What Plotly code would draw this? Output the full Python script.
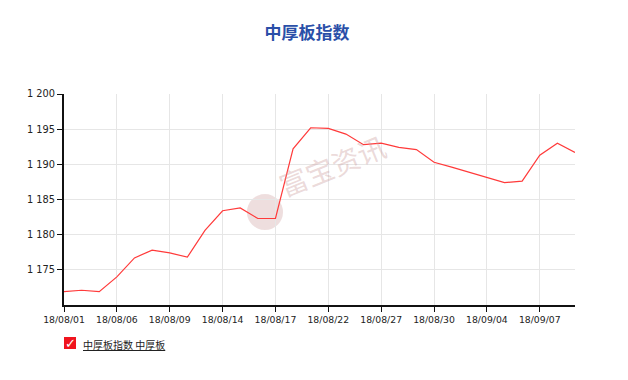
import plotly.graph_objects as go

dates = ["18/08/01","18/08/02","18/08/03","18/08/06","18/08/07","18/08/08","18/08/09","18/08/10",
         "18/08/13","18/08/14","18/08/15","18/08/16","18/08/17","18/08/20","18/08/21","18/08/22",
         "18/08/23","18/08/24","18/08/27","18/08/28","18/08/29","18/08/30","18/08/31","18/09/03",
         "18/09/04","18/09/05","18/09/06","18/09/07","18/09/10","18/09/11"]
values = [1171.9,1172.1,1171.9,1174.0,1176.7,1177.8,1177.4,1176.8,
          1180.6,1183.4,1183.8,1182.3,1182.3,1192.2,1195.2,1195.1,
          1194.3,1192.8,1193.0,1192.4,1192.1,1190.3,1189.6,1188.9,
          1188.1,1187.4,1187.6,1191.3,1193.0,1191.7]
tick_labels = dates[::3]
y_ticks = [1175, 1180, 1185, 1190, 1195, 1200]
title_text = "中厚板指数"
legend_text = "中厚板指数 中厚板"
watermark = "富宝资讯"

fig = go.Figure()
fig.add_trace(go.Scatter(x=dates, y=values, mode="lines",
                         line=dict(color="#ff3a3a", width=1.2),
                         showlegend=False, hoverinfo="x+y"))

font_family = "DejaVu Sans, Verdana, sans-serif"
fig.update_layout(
    width=628, height=380,
    margin=dict(l=64, r=53, t=94, b=75),
    paper_bgcolor="white", plot_bgcolor="white",
    separators=". ",
    font=dict(family=font_family, size=10, color="#222"),
    title=dict(text="<b>" + title_text + "</b>", x=0.489, xanchor="center",
               y=1 - 33 / 380, yanchor="middle",
               font=dict(family="Noto Sans CJK SC", size=17, color="#2a4fa8")),
    xaxis=dict(type="category", range=[0, len(dates) - 1],
               tickmode="array", tickvals=tick_labels, ticktext=tick_labels,
               showgrid=True, gridcolor="#e6e6e6", gridwidth=1,
               showline=True, linecolor="#111", linewidth=2,
               ticks="outside", ticklen=5, tickcolor="#111", tickwidth=1,
               tickfont=dict(size=9.3, color="#222")),
    yaxis=dict(range=[1170, 1200], tickmode="array", tickvals=y_ticks,
               tickformat=",d",
               showgrid=True, gridcolor="#e6e6e6", gridwidth=1,
               showline=True, linecolor="#111", linewidth=2,
               ticks="outside", ticklen=5, tickcolor="#111", tickwidth=1,
               tickfont=dict(size=9.8, color="#222"), zeroline=False),
)

# watermark
fig.add_shape(type="circle", xref="paper", yref="paper",
              x0=0.358, x1=0.4286, y0=0.355, y1=0.526,
              fillcolor="rgba(205,160,160,0.35)", line=dict(width=0), layer="below")
fig.add_annotation(text=watermark, xref="paper", yref="paper", x=0.525, y=0.665,
                   showarrow=False, textangle=-22,
                   font=dict(family="Noto Sans CJK SC", size=28, color="rgba(205,160,160,0.4)"))

# legend (checkbox + label)
fig.add_shape(type="rect", xref="paper", yref="paper",
              x0=0.0, x1=12 / 511, y0=(305 - 349) / 211, y1=(305 - 337) / 211,
              fillcolor="#f0141e", line=dict(width=0))
fig.add_annotation(text="<b>✓</b>", xref="paper", yref="paper", x=6 / 511, y=(305 - 343) / 211,
                   showarrow=False, font=dict(family="DejaVu Sans", size=13, color="white"),
                   xanchor="center", yanchor="middle")
fig.add_annotation(text="<u>" + legend_text + "</u>", xref="paper", yref="paper",
                   x=17 / 511, y=(305 - 344) / 211, xanchor="left", yanchor="middle",
                   showarrow=False,
                   font=dict(family="Noto Sans CJK SC", size=10, color="#222"))

fig.write_html("out.html")
